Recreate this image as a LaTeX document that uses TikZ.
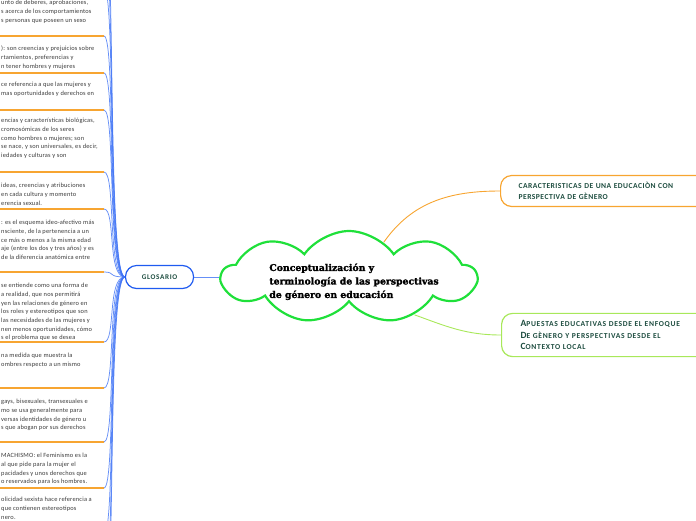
\documentclass[tikz,border=0pt]{standalone}
\usepackage{fontspec}
\setmainfont{Carlito}
\newfontfamily\titlefont[FakeBold=1.6]{DejaVu Serif Bold}
\usetikzlibrary{shapes.symbols,positioning}

\definecolor{rulecol}{HTML}{F7A531}
\definecolor{branchcol}{HTML}{3F73F5}
\definecolor{glosscol}{HTML}{1F5BF0}
\definecolor{cloudcol}{HTML}{1FE03A}
\definecolor{limecol}{HTML}{A8E85A}
\definecolor{labelcol}{HTML}{1E4D40}
\definecolor{bodycol}{HTML}{3A3A3A}

\newcommand{\capit}[1]{{\fontsize{9.5}{10}\selectfont #1}}

\begin{document}
\begin{tikzpicture}[x=1pt,y=1pt,
        every node/.style={inner sep=0pt},
        entry/.style={anchor=north west, align=left, text=bodycol, font=\fontsize{6.4}{8.7}\selectfont\addfontfeatures{LetterSpace=3}},
        rule/.style={draw=rulecol, line width=1.6pt},
        branch/.style={draw=branchcol, line width=0.75pt, opacity=0.8},
        titlecloud/.style={cloud, cloud puffs=9, cloud puff arc=110, aspect=2.6, draw=cloudcol, line width=2.2pt, fill=white,
            minimum width=254pt, minimum height=92pt, font=\titlefont\fontsize{9.3}{13.5}\selectfont},
        topic/.style={draw, line width=1.2pt, rounded corners=11pt, align=left, text=labelcol,
            font=\bfseries\fontsize{7.6}{10.5}\selectfont\addfontfeatures{LetterSpace=6}}
    ]
    \useasboundingbox (0,0) rectangle (696,-520);

    % Nodes
    \node[titlecloud] (title) at (349,-277) {\raisebox{-7pt}[0pt][0pt]{\makebox[0pt]{\hspace*{10pt}\begin{tabular}{@{}l@{}}Conceptualización y\\terminología de las perspectivas\\de género en educación\end{tabular}}}};
    \node[topic, draw=glosscol, left=25pt of title, minimum width=68pt, minimum height=23pt, align=center,
        font=\bfseries\fontsize{7.2}{8}\selectfont\addfontfeatures{LetterSpace=9}] (glos) {GLOSARIO};
    \node[topic, draw=rulecol, anchor=west, text width=190pt, inner xsep=18pt, inner ysep=7pt] (feat) at (500,-191)
        {CARACTERISTICAS DE UNA EDUCACIÒN CON\\PERSPECTIVA DE GÈNERO};
    \node[topic, draw=limecol, anchor=west, text width=190pt, inner xsep=19pt, inner ysep=7pt,
        font=\bfseries\fontsize{7.6}{11.5}\selectfont\addfontfeatures{LetterSpace=9}] (bets) at (501,-335)
        {\capit{A}PUESTAS EDUCATIVAS DESDE EL ENFOQUE\\\capit{D}E GÈNERO Y PERSPECTIVAS DESDE EL\\\capit{C}ONTEXTO LOCAL};

    % Glossary entries
    \node[entry] (g1) at (1,0) {unto de deberes, aprobaciones,\\s acerca de los comportamientos\\s personas que poseen un sexo};
    \node[entry] (g2) at (1,-46) {): son creencias y prejuicios sobre\\rtamientos, preferencias y\\n tener hombres y mujeres};
    \node[entry] (g3) at (1,-82) {ce referencia a que las mujeres y\\mas oportunidades y derechos en};
    \node[entry] (g4) at (1,-118) {encias y características biológicas,\\cromosómicas de los seres\\como hombres o mujeres; son\\se nace, y son universales, es decir,\\iedades y culturas y son};
    \node[entry] (g5) at (1,-183) {ideas, creencias y atribuciones\\en cada cultura y momento\\erencia sexual.};
    \node[entry] (g6) at (1,-220) {: es el esquema ideo-afectivo más\\nsciente, de la pertenencia a un\\ce más o menos a la misma edad\\aje (entre los dos y tres años) y es\\de la diferencia anatómica entre};
    \node[entry] (g7) at (1,-283) {se entiende como una forma de\\a realidad, que nos permitirá\\yen las relaciones de género en\\los roles y estereotipos que son\\las necesidades de las mujeres y\\nen menos oportunidades, cómo\\s el problema que se desea};
    \node[entry] (g8) at (1,-353) {na medida que muestra la\\ombres respecto a un mismo};
    \node[entry] (g9) at (1,-399) {gays, bisexuales, transexuales e\\mo se usa generalmente para\\versas identidades de género u\\s que abogan por sus derechos};
    \node[entry] (g10) at (1,-453) {MACHISMO: el Feminismo es la\\al que pide para la mujer el\\pacidades y unos derechos que\\o reservados para los hombres.};
    \node[entry] (g11) at (1,-497) {olicidad sexista hace referencia a\\que contienen estereotipos\\nero.};

    % Rules under the entries
    \draw[rule] (0,-36) -- (104,-36) coordinate (r1);
    \draw[rule] (0,-73) -- (104,-73) coordinate (r2);
    \draw[rule] (0,-110) -- (104,-110) coordinate (r3);
    \draw[rule] (0,-172) -- (104,-172) coordinate (r4);
    \draw[rule] (0,-209) -- (104,-209) coordinate (r5);
    \draw[rule] (0,-272) -- (104,-272) coordinate (r6);
    \draw[rule] (0,-342) -- (104,-342) coordinate (r7);
    \draw[rule] (0,-388) -- (104,-388) coordinate (r8);
    \draw[rule] (0,-442) -- (104,-442) coordinate (r9);
    \draw[rule] (0,-488) -- (104,-488) coordinate (r10);
    \draw[rule] (0,-534) -- (104,-534) coordinate (r11);
    \coordinate (t1) at (104,12);
    \coordinate (t2) at (104,45);
    \coordinate (t3) at (104,80);
    \coordinate (b1) at (104,-580);
    \coordinate (b2) at (104,-625);

    % Edges
    \foreach \r in {t1,t2,t3,r1,r2,r3,r4,r5,r6,r7,r8,r9,r10,r11,b1,b2}
        \draw[branch] (\r) .. controls +(12,0) and +(-18,0) .. (glos.west);
    \draw[branch] (glos.east) -- (title.west);
    \draw[draw=rulecol, line width=0.9pt] (title.45) to[out=55,in=180] (feat.west);
    \draw[draw=limecol, line width=0.9pt] (title.-30) to[out=-20,in=180] (bets.west);

\end{tikzpicture}
\end{document}
